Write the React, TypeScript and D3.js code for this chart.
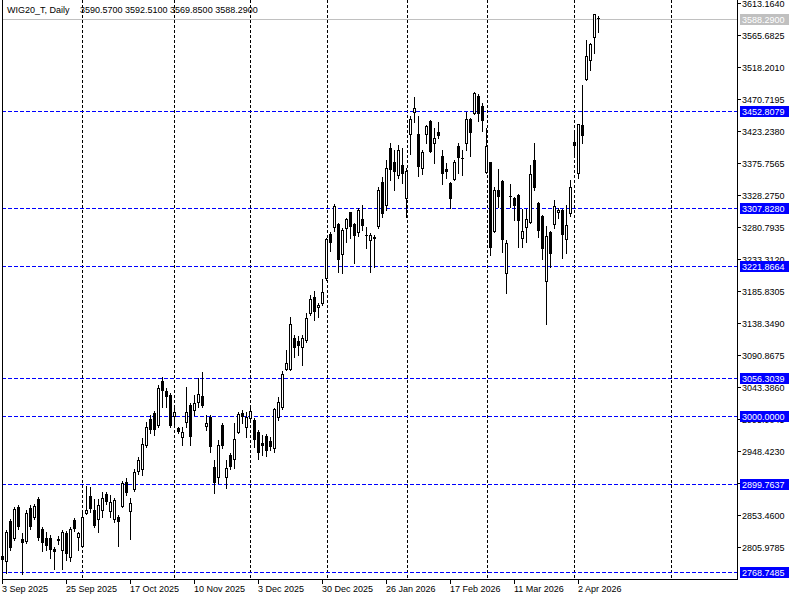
import React from 'react';
import * as d3 from 'd3';

// Daily bars, index 0 = 3 Sep 2025
const opens = [2792.7,2785.3,2844.6,2819.4,2865.3,2817.9,2814.9,2863.8,2850.5,2877.2,2832.7,2819.4,2819.4,2803.1,2817.9,2801.6,2826.8,2791.2,2846.0,2820.8,2807.5,2856.4,2881.6,2860.9,2847.5,2860.9,2884.6,2859.4,2847.5,2850.5,2866.8,2902.4,2859.4,2892.0,2918.7,2921.6,2957.2,2995.8,3004.7,2986.9,3052.1,3037.3,3031.3,3000.2,2982.4,2969.1,2991.3,3016.5,3009.1,3021.0,3029.9,2985.8,2998.3,2924.2,2909.3,2986.9,2909.3,2942.4,2936.0,2976.9,3005.1,2984.4,2996.8,2994.3,2976.9,2959.7,2970.6,2963.6,2952.3,2999.2,3014.0,3069.4,3069.9,3115.4,3111.8,3102.9,3112.9,3152.5,3176.2,3161.3,3167.3,3204.3,3270.0,3279.9,3284.8,3240.4,3278.5,3302.2,3284.8,3273.4,3292.2,3268.5,3261.1,3265.1,3281.9,3347.1,3313.0,3397.5,3376.7,3357.5,3372.3,3322.9,3417.8,3450.4,3417.8,3367.4,3417.8,3437.5,3404.5,3420.8,3385.6,3366.4,3345.2,3351.1,3400.5,3383.1,3404.5,3440.0,3448.9,3474.6,3459.7,3361.5,3376.3,3274.9,3335.2,3348.6,3211.7,3326.3,3322.9,3327.8,3263.6,3279.9,3288.2,3379.7,3315.5,3296.7,3200.3,3273.4,3284.8,3302.2,3305.6,3262.1,3300.7,3406.8,3360.0,3431.6,3499.3,3527.9,3561.6,3590.57];
const highs = [2804.5,2831.2,2847.5,2865.3,2868.3,2826.8,2860.9,2868.3,2869.8,2880.1,2835.7,2828.3,2823.8,2806.0,2822.3,2831.2,2829.7,2835.7,2849.0,2828.3,2857.9,2896.4,2895.0,2877.2,2877.2,2887.6,2887.6,2883.1,2878.7,2853.5,2903.9,2908.3,2878.7,2921.6,2939.4,2967.6,2991.3,3001.7,3007.6,3046.2,3058.0,3041.7,3034.3,3012.1,2983.9,2983.9,3043.2,3019.5,3031.3,3056.5,3065.4,3001.7,3001.7,2935.0,2964.6,2989.8,2935.0,2944.9,2989.4,3006.6,3009.1,3006.1,3012.1,2997.2,2979.5,2972.0,2973.5,2969.5,3011.6,3028.4,3067.4,3098.0,3146.5,3120.3,3118.8,3120.3,3153.3,3179.6,3186.0,3168.2,3202.9,3263.6,3273.4,3314.5,3285.9,3278.5,3293.3,3303.1,3285.9,3308.1,3313.0,3279.9,3271.0,3268.5,3339.7,3354.5,3379.7,3404.9,3394.5,3401.9,3397.0,3367.4,3444.9,3473.5,3444.9,3394.5,3431.6,3439.0,3426.7,3435.6,3394.5,3374.8,3346.5,3379.7,3405.3,3394.5,3451.3,3441.5,3480.9,3477.5,3463.7,3426.7,3377.2,3339.2,3366.4,3350.0,3261.1,3344.1,3325.3,3329.0,3306.6,3306.6,3372.3,3405.3,3317.0,3298.0,3281.9,3275.0,3320.4,3308.1,3307.0,3313.0,3350.1,3419.3,3433.1,3490.9,3557.6,3552.5,3596.1,3592.51];
const lows = [2777.9,2767.5,2801.6,2816.4,2832.7,2766.0,2812.0,2832.7,2847.5,2816.4,2800.1,2801.6,2789.7,2773.4,2810.5,2773.4,2786.8,2785.3,2829.7,2801.6,2806.0,2854.9,2857.9,2835.7,2828.3,2850.5,2869.8,2850.5,2843.1,2807.5,2865.3,2883.1,2817.9,2889.0,2914.2,2912.8,2954.3,2975.0,2972.0,2983.9,3013.6,3013.6,2983.9,2986.9,2975.0,2957.2,2983.9,2957.2,3001.7,3013.6,3013.6,2979.5,2947.3,2885.6,2900.4,2952.8,2893.0,2921.6,2922.7,2975.0,2989.4,2969.5,2992.8,2954.7,2936.0,2942.4,2940.9,2949.8,2947.3,2994.3,3010.1,3068.4,3068.4,3088.1,3090.6,3075.8,3110.4,3149.9,3142.5,3146.5,3164.8,3201.8,3245.2,3274.9,3214.1,3211.7,3258.6,3263.6,3227.5,3267.0,3275.9,3248.8,3214.1,3220.6,3278.9,3294.8,3305.6,3350.1,3335.2,3353.0,3346.0,3295.6,3388.6,3436.5,3356.4,3358.5,3404.5,3391.6,3374.8,3412.8,3343.7,3352.6,3308.1,3350.1,3360.9,3357.5,3394.5,3385.6,3447.5,3438.0,3423.1,3360.0,3238.9,3273.0,3310.5,3243.8,3182.1,3310.5,3290.8,3251.2,3251.2,3258.6,3286.0,3335.2,3265.1,3232.5,3136.1,3221.1,3278.5,3293.7,3234.0,3241.4,3297.1,3387.1,3353.5,3405.3,3498.0,3513.1,3538.8,3569.85];
const closes = [2786.8,2828.3,2804.5,2862.4,2835.7,2812.0,2856.4,2835.7,2866.8,2819.4,2812.0,2807.5,2801.6,2798.6,2814.9,2828.3,2795.6,2832.7,2832.7,2826.8,2850.5,2860.9,2862.4,2837.2,2868.3,2878.7,2872.7,2872.7,2875.7,2843.1,2900.9,2886.1,2871.2,2917.2,2935.0,2958.7,2983.9,2979.5,2979.5,3041.7,3037.3,3028.4,2985.4,3006.1,2976.5,2976.5,3006.1,2969.1,3019.5,3032.8,3015.0,2990.3,2954.7,2900.4,2957.2,2955.7,2922.7,2924.2,2965.7,3003.2,2998.3,2999.2,3007.6,2964.6,2944.9,2955.7,2948.8,2953.8,3010.1,3021.4,3062.5,3078.3,3136.6,3101.5,3104.4,3115.4,3145.0,3173.2,3154.8,3164.8,3183.6,3262.1,3257.1,3311.5,3231.5,3275.9,3292.2,3279.9,3267.5,3305.6,3282.3,3266.6,3268.5,3262.1,3335.2,3299.2,3367.8,3364.9,3361.9,3394.5,3358.5,3363.8,3440.0,3456.3,3369.8,3391.1,3430.5,3392.0,3411.9,3415.7,3358.5,3362.4,3321.4,3376.3,3383.1,3380.7,3440.0,3419.3,3479.5,3447.4,3438.0,3400.9,3248.8,3335.2,3325.3,3261.1,3256.2,3324.4,3312.0,3289.7,3274.4,3291.8,3358.5,3337.7,3274.9,3247.3,3267.0,3239.9,3311.5,3305.6,3268.5,3283.3,3340.1,3400.9,3432.6,3415.3,3533.9,3551.2,3595.7,3588.29];

const dateLabels = ['3 Sep 2025','25 Sep 2025','17 Oct 2025','10 Nov 2025','3 Dec 2025','30 Dec 2025','26 Jan 2026','17 Feb 2026','11 Mar 2026','2 Apr 2026'];
const dateLabelBars = [0,16,32,48,64,80,96,112,128,144];
const monthGridBars = [20,43,62,81.25,101.25,121.25,143,167.25];
const priceTicks = [3613.164,3565.6825,3518.201,3470.7195,3423.238,3375.7565,3328.275,3280.7935,3233.312,3185.8305,3138.349,3090.8675,3043.386,2995.9045,2948.423,2900.9415,2853.46,2805.9785];
const levelLines = [3452.8079,3307.828,3221.8664,3056.3039,3000.0,2899.7637,2768.7485];
const bidPrice = 3588.29;
const symbolTitle = 'WIG20_T, Daily';
const lastOhlc = [3590.57, 3592.51, 3569.85, 3588.29];

const FONT = '"Liberation Sans", Arial, sans-serif';

export default function App() {
  const x = d3.scaleLinear().domain([0, 184]).range([2, 738]);
  const y = d3.scaleLinear().domain([2768.7485, 3613.164]).range([572.1, 2.5]);
  const fmt = d3.format('.4f');
  const plotRight = 737;
  const plotBottom = 579;

  const candles = opens.map((o, i) => {
    const cx = Math.round(x(i));
    const yO = Math.round(y(o));
    const yC = Math.round(y(closes[i]));
    const yH = Math.round(y(highs[i]));
    const yL = Math.round(y(lows[i]));
    const bull = closes[i] >= o;
    return (
      <g key={i}>
        <line x1={cx + 0.5} x2={cx + 0.5} y1={yH} y2={yL + 1} stroke="#000" strokeWidth={1} />
        {bull ? (
          yO - yC > 0 ? (
            <rect x={cx - 0.5} y={yC + 0.5} width={2} height={yO - yC} fill="#fff" stroke="#000" strokeWidth={1} />
          ) : (
            <line x1={cx - 1} x2={cx + 2} y1={yC + 0.5} y2={yC + 0.5} stroke="#000" />
          )
        ) : (
          <rect x={cx - 1} y={yO} width={3} height={Math.max(yC - yO, 1)} fill="#000" />
        )}
      </g>
    );
  });

  return (
    <svg width={800} height={600} style={{ position: 'fixed', left: 0, top: 0, display: 'block', background: '#fff' }}
      fontFamily={FONT} fontSize={9}>
      <rect x={0} y={0} width={800} height={600} fill="#fff" />
      {/* vertical month grid */}
      {monthGridBars.map((b, i) => {
        const gx = Math.round(x(b)) + 0.5;
        return <line key={'g' + i} x1={gx} x2={gx} y1={0} y2={plotBottom} stroke="#000" strokeDasharray="3,2" />;
      })}
      {/* bid line */}
      <line x1={2} x2={plotRight} y1={Math.round(y(bidPrice)) + 0.5} y2={Math.round(y(bidPrice)) + 0.5} stroke="#c0c0c0" />
      {/* level lines */}
      {levelLines.map((v, i) => {
        const ly = Math.round(y(v)) + 0.5;
        return <line key={'l' + i} x1={2} x2={plotRight} y1={ly} y2={ly} stroke="#0000ff" strokeDasharray="4,2" />;
      })}
      {candles}
      {/* header */}
      <text x={7} y={13} fill="#000">{symbolTitle}</text>
      <text x={80} y={13} fill="#000" style={{ whiteSpace: 'pre' }}>{lastOhlc.map(v => fmt(v)).join(' ')}</text>
      {/* frame */}
      <line x1={2.5} x2={2.5} y1={0} y2={plotBottom + 1} stroke="#000" />
      <line x1={2} x2={plotRight + 1} y1={plotBottom + 0.5} y2={plotBottom + 0.5} stroke="#000" />
      <line x1={plotRight + 0.5} x2={plotRight + 0.5} y1={0} y2={plotBottom + 1} stroke="#000" />
      {/* price axis */}
      {priceTicks.map((p, i) => {
        const ty = Math.round(y(p)) + 0.5;
        return (
          <g key={'t' + i}>
            <line x1={plotRight} x2={741} y1={ty} y2={ty} stroke="#000" />
            <text x={742} y={ty + 3.5} fill="#000">{fmt(p)}</text>
          </g>
        );
      })}
      {/* bid label */}
      {(() => {
        const by = Math.round(y(bidPrice));
        return (
          <g>
            <rect x={740} y={by - 5} width={49} height={11} fill="#c0c0c0" />
            <text x={742} y={by + 4} fill="#fff">{fmt(bidPrice)}</text>
          </g>
        );
      })()}
      {levelLines.map((v, i) => {
        const ly = Math.round(y(v));
        return (
          <g key={'lb' + i}>
            <rect x={740} y={ly - 5} width={49} height={11} fill="#0000ff" />
            <text x={742} y={ly + 4} fill="#fff">{fmt(v)}</text>
          </g>
        );
      })}
      {/* time axis */}
      {dateLabelBars.map((b, i) => {
        const tx = Math.round(x(b));
        return (
          <g key={'d' + i}>
            <line x1={tx + 0.5} x2={tx + 0.5} y1={plotBottom} y2={584} stroke="#000" />
            <text x={tx} y={592} fill="#000">{dateLabels[i]}</text>
          </g>
        );
      })}
    </svg>
  );
}
